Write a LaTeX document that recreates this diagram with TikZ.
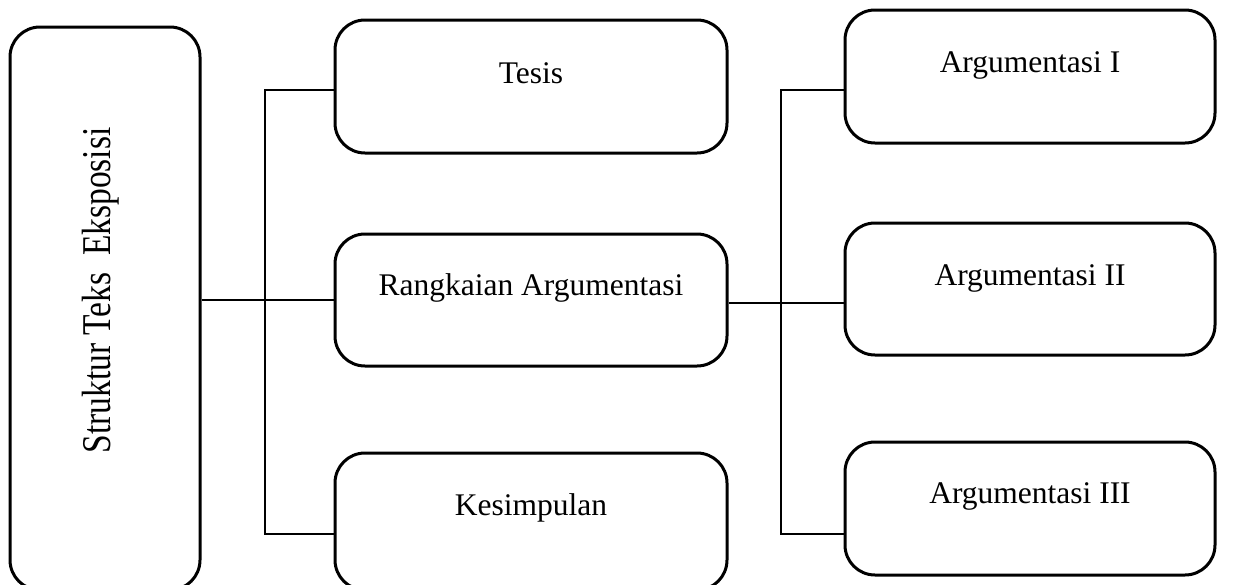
\documentclass[tikz,border=0pt]{standalone}
\usepackage{fontspec}
\setmainfont{Liberation Serif}
\begin{document}
\begin{tikzpicture}[x=1pt,y=-1pt,
  box/.style={draw=black, line width=3pt, rounded corners=30pt, inner sep=0pt, fill=white},
  conn/.style={draw=black, line width=1.4pt},
  lbl/.style={anchor=base, inner sep=0pt, font=\fontsize{31.5}{36}\selectfont}]
\clip (0,0) rectangle (1256,584);
\useasboundingbox (0,0) rectangle (1256,584);
\fill[white] (0,0) rectangle (1256,584);
% boxes
\node[box, minimum width=190pt, minimum height=563pt] (root) at (105,308.5) {};
\node[box, minimum width=392pt, minimum height=133pt] (tesis) at (531,86.5) {};
\node[box, minimum width=392pt, minimum height=132pt] (ra) at (531,300) {};
\node[box, minimum width=392pt, minimum height=137pt] (kes) at (531,521.5) {};
\node[box, minimum width=370pt, minimum height=133pt] (a1) at (1030,76.5) {};
\node[box, minimum width=370pt, minimum height=132pt] (a2) at (1030,289) {};
\node[box, minimum width=370pt, minimum height=133pt] (a3) at (1030,508.5) {};
% labels
\node[anchor=base, inner sep=0pt, rotate=90, font=\fontsize{33.5}{40}\selectfont] (rootT) at (110,290.5) {\scalebox{1}[1.22]{Struktur Teks\ \ Eksposisi}};
\node[lbl] (tesisT) at (531,83) {Tesis};
\node[lbl] (raT) at (531,295) {Rangkaian Argumentasi};
\node[lbl] (kesT) at (531,515) {Kesimpulan};
\node[lbl] (a1T) at (1030,72) {Argumentasi I};
\node[lbl] (a2T) at (1030,285) {Argumentasi II};
\node[lbl] (a3T) at (1030,503) {Argumentasi III};
% connector junctions
\coordinate (lt) at (265,90);
\coordinate (lb) at (265,534);
\coordinate (rt) at (781,90);
\coordinate (rb) at (781,534);
\coordinate (rm) at (781,303);
% left connectors
\draw[conn] (root.east |- ra.west) -- (ra.west);
\draw[conn] (tesis.west |- lt) -- (lt) -- (lb) -- (kes.west |- lb);
% right connectors
\draw[conn] (ra.east |- rm) -- (a2.west |- rm);
\draw[conn] (a1.west |- rt) -- (rt) -- (rb) -- (a3.west |- rb);
\end{tikzpicture}
\end{document}
